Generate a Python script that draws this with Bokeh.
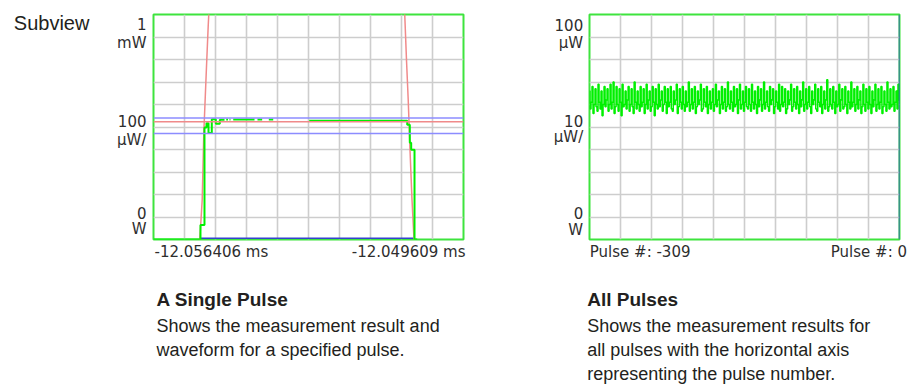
from bokeh.plotting import figure
from bokeh.models import Range1d, Grid, FixedTicker, Span
from bokeh.layouts import row, column
from bokeh.core.properties import value
from bokeh.embed import file_html
from bokeh.resources import INLINE

# ---------------- data: A Single Pulse (x: ns from left edge, y: uW) ----------------
single_span_ns = 6797            # -12.056406 ms .. -12.049609 ms
single_top_uw = 1000             # 1 mW top, 100 uW/div
single_x_labels = ["-12.056406 ms", "-12.049609 ms"]
single_y_labels = [("1", "mW"), ("100", "μW/"), ("0", "W")]

green_t = [0, 1030, 1030, 1118, 1118, 1162, 1162, 1206, 1206, 1278, 1278, 1366, 1366, 1454, 1454, 1557,
           None, 1594, 1634, None, 1666, 1688, None, 1748, 2215, None, 2280, 2383, None, 2528, 2625,
           None, 3414, 5563, 5563, 5620, 5620, 5650, 5650, 5723, 5723, 5782]
green_v = [0, 0, 65, 65, 498, 498, 517, 517, 473, 473, 535, 535, 514, 514, 532, 532,
           None, 533, 533, None, 533, 533, None, 533, 533, None, 533, 533, None, 533, 533,
           None, 528, 528, 510, 510, 430, 430, 399, 399, 0, 0]

red_rise_t = [1015, 1068, 1103, 1162, 1199, 1219]
red_rise_v = [0, 176, 473, 769, 947, 1030]
red_fall_t = [5503, 5547, 5585, 5624, 5668, 5712]
red_fall_v = [1030, 798, 620, 398, 176, 0]
red_level_uw = 523
blue_levels_uw = [540, 471]
blue_base_t = [1030, 5720]
blue_base_v = [6, 6]

# ---------------- data: All Pulses (x: pulse number, y: uW) ----------------
pulse_first, pulse_last = -309, 0
all_top_uw = 100                 # 100 uW top, 10 uW/div
all_x_labels = ["Pulse #: -309", "Pulse #: 0"]
all_y_labels = [("100", "μW"), ("10", "μW/"), ("0", "W")]
pulse_values = [
    66, 58, 61, 68, 56, 60, 67, 59, 57, 69, 61, 58, 66, 55, 60, 68, 59, 62, 67, 57,
    60, 69, 58, 61, 70, 56, 59, 68, 60, 57, 67, 61, 55, 69, 59, 60, 66, 58, 62, 68,
    57, 60, 67, 59, 56, 70, 61, 58, 66, 60, 57, 68, 59, 61, 67, 56, 60, 69, 58, 62,
    66, 57, 59, 68, 61, 55, 67, 60, 58, 69, 59, 62, 66, 57, 60, 68, 61, 56, 67, 59,
    61, 68, 58, 57, 66, 60, 62, 69, 56, 59, 67, 61, 58, 68, 60, 57, 66, 59, 61, 70,
    57, 60, 67, 58, 61, 68, 56, 59, 66, 60, 62, 69, 57, 58, 67, 61, 59, 68, 56, 60,
    66, 58, 61, 67, 57, 60, 69, 59, 62, 66, 56, 60, 68, 58, 61, 67, 57, 59, 70, 60,
    58, 66, 61, 57, 68, 59, 60, 67, 56, 62, 69, 58, 60, 66, 57, 61, 68, 59, 58, 67,
    60, 57, 69, 61, 58, 66, 60, 56, 68, 59, 62, 67, 57, 60, 70, 58, 61, 66, 59, 57,
    68, 60, 62, 67, 56, 59, 66, 61, 58, 69, 57, 60, 68, 59, 61, 67, 56, 58, 66, 60,
    62, 69, 57, 59, 67, 61, 58, 68, 60, 56, 66, 59, 62, 70, 57, 60, 67, 58, 61, 68,
    59, 56, 66, 60, 62, 69, 58, 57, 67, 61, 59, 68, 56, 60, 66, 58, 62, 71, 57, 59,
    67, 60, 58, 68, 61, 56, 66, 59, 60, 69, 57, 62, 67, 58, 59, 68, 60, 56, 66, 61,
    58, 70, 59, 61, 67, 57, 60, 68, 58, 62, 66, 56, 59, 69, 60, 57, 67, 61, 58, 68,
    60, 56, 66, 59, 62, 69, 57, 60, 67, 58, 61, 68, 56, 59, 66, 60, 57, 70, 61, 58,
    67, 59, 60, 68, 57, 61, 66, 58, 69, 62,
]
pulse_numbers = list(range(pulse_first, pulse_last + 1))

# ---------------- captions ----------------
page_title = "Subview"
left_caption_title = "A Single Pulse"
left_caption_lines = ["Shows the measurement result and", "waveform for a specified pulse."]
right_caption_title = "All Pulses"
right_caption_lines = ["Shows the measurement results for", "all pulses with the horizontal axis",
                       "representing the pulse number."]

# ---------------- styles / geometry ----------------
FRAME_GREEN = "#3ee43e"
TRACE_GREEN = "#00f000"
GRID = "#cdcdcd"
RED = "#f08a8a"
BLUE = "#8c8cff"
DARK_BLUE = "#3344cc"
TXT = "#231f20"
AX_TXT = "#2e2e2e"
AX_FONT = "DejaVu Sans"
AX_SIZE = "15px"
CAP_FONT = "Liberation Sans"

PAGE_W, PAGE_H = 911, 391
FRAME_W, FRAME_H = 310, 225
TOP_H = 241                       # height of the chart row
PAD = 2                           # room for the 2px outline
BORDER_TOP = TOP_H - FRAME_H - PAD  # 14
L_FRAME_X, R_FRAME_X = 153, 589   # page x of the two frames' left edges
BASE_SHIFT = 5.8                  # measured: drawn baseline sits this far below the anchor


def chart_fig(xr, yr):
    p = figure(width=FRAME_W + 2 * PAD, height=TOP_H, x_range=xr, y_range=yr,
               title=None, x_axis_location=None, y_axis_location=None,
               toolbar_location=None, output_backend="svg",
               min_border_left=PAD, min_border_right=PAD,
               min_border_top=BORDER_TOP, min_border_bottom=PAD)
    p.outline_line_color = FRAME_GREEN
    p.outline_line_width = 2
    p.background_fill_color = "white"
    p.border_fill_color = "white"
    p.center = [r for r in p.center if not isinstance(r, Grid)]
    return p


def add_grid(p, lo_x, hi_x, lo_y, hi_y):
    xt = [lo_x + (hi_x - lo_x) * i / 10 for i in range(1, 10)]
    yt = [lo_y + (hi_y - lo_y) * i / 10 for i in range(1, 10)]
    p.add_layout(Grid(dimension=0, ticker=FixedTicker(ticks=xt),
                      grid_line_color=GRID, grid_line_width=1.6))
    p.add_layout(Grid(dimension=1, ticker=FixedTicker(ticks=yt),
                      grid_line_color=GRID, grid_line_width=1.6))


def text_fig(x0, w, y_top, y_bot, h, b_top, b_bot):
    """A blank figure; its data units are page pixels (frame spans y_top..y_bot on the page)."""
    p = figure(width=w, height=h, x_range=Range1d(x0, x0 + w), y_range=Range1d(y_bot, y_top),
               title=None, x_axis_location=None, y_axis_location=None,
               toolbar_location=None, output_backend="svg",
               min_border_left=0, min_border_right=0,
               min_border_top=b_top, min_border_bottom=b_bot)
    p.outline_line_color = None
    p.background_fill_color = "white"
    p.border_fill_color = "white"
    p.center = [r for r in p.center if not isinstance(r, Grid)]
    return p


def put(p, px, py, text, align="left", font=AX_FONT, size=AX_SIZE, style="normal",
        shift=BASE_SHIFT, color=TXT):
    p.text(x=[px], y=[py - shift], text=[text], text_align=align, text_baseline="alphabetic",
           text_font=value(font), text_font_size=value(size),
           text_font_style=style, text_color=color)


def nan(v):
    return float("nan") if v is None else v


# ---------------- left chart ----------------
pl = chart_fig(Range1d(0, single_span_ns), Range1d(0, single_top_uw))
add_grid(pl, 0, single_span_ns, 0, single_top_uw)
for lvl in blue_levels_uw:
    pl.add_layout(Span(location=lvl, dimension="width", line_color=BLUE, line_width=1.5))
pl.add_layout(Span(location=red_level_uw, dimension="width", line_color=RED, line_width=1.5))
pl.line(blue_base_t, blue_base_v, line_color=DARK_BLUE, line_width=1.5)
pl.line(red_rise_t, red_rise_v, line_color=RED, line_width=1.5)
pl.line(red_fall_t, red_fall_v, line_color=RED, line_width=1.5)
pl.line([nan(t) for t in green_t], [nan(v) for v in green_v], line_color=TRACE_GREEN, line_width=2)

# ---------------- right chart ----------------
pr = chart_fig(Range1d(pulse_first, pulse_last), Range1d(0, all_top_uw))
add_grid(pr, pulse_first, pulse_last, 0, all_top_uw)
pr.step(pulse_numbers, pulse_values, mode="center", line_color=TRACE_GREEN, line_width=1.5)
pr.add_layout(Span(location=pulse_last, dimension="height", line_color=DARK_BLUE, line_width=1.5))

# ---------------- text panels ----------------
l_x = L_FRAME_X - PAD                       # 151
m_x = L_FRAME_X + FRAME_W + PAD             # 465
r_x = R_FRAME_X + FRAME_W + PAD             # 901
f_top, f_bot = BORDER_TOP, TOP_H - PAD      # 14, 239 (same frame rows as the charts)

t_left = text_fig(0, l_x, f_top, f_bot, TOP_H, BORDER_TOP, PAD)
put(t_left, 13.3, 29.3, page_title, font=CAP_FONT, size="20px", shift=6.5)
for (a, b), (ya, yb) in zip(single_y_labels, [(29.3, 48.3), (126.7, 145.5), (218.3, 234.5)]):
    put(t_left, 146, ya, a, align="right", color=AX_TXT)
    put(t_left, 146, yb, b, align="right", color=AX_TXT)

t_mid = text_fig(m_x, R_FRAME_X - PAD - m_x, f_top, f_bot, TOP_H, BORDER_TOP, PAD)
for (a, b), (ya, yb) in zip(all_y_labels, [(30, 48.3), (126.7, 142.5), (218, 235.5)]):
    put(t_mid, 582.7, ya, a, align="right", color=AX_TXT)
    put(t_mid, 582.7, yb, b, align="right", color=AX_TXT)

t_right = text_fig(r_x, PAGE_W - r_x, f_top, f_bot, TOP_H, BORDER_TOP, PAD)

t_bottom = text_fig(0, PAGE_W, TOP_H, PAGE_H, PAGE_H - TOP_H, 0, 0)
put(t_bottom, 154, 257, single_x_labels[0], color=AX_TXT)
put(t_bottom, 465, 257, single_x_labels[1], align="right", color=AX_TXT)
put(t_bottom, 589.3, 257, all_x_labels[0], color=AX_TXT)
put(t_bottom, 906.5, 257, all_x_labels[1], align="right", color=AX_TXT)
put(t_bottom, 156, 305, left_caption_title, font=CAP_FONT, size="19px", style="bold")
for i, line in enumerate(left_caption_lines):
    put(t_bottom, 156, 331.5 + 24 * i, line, font=CAP_FONT, size="18px")
put(t_bottom, 586.7, 305, right_caption_title, font=CAP_FONT, size="19px", style="bold")
for i, line in enumerate(right_caption_lines):
    put(t_bottom, 586.7, 331.5 + 24 * i, line, font=CAP_FONT, size="18px")

layout = column(row(t_left, pl, t_mid, pr, t_right), t_bottom)
open("out.html", "w").write(file_html(layout, INLINE))
